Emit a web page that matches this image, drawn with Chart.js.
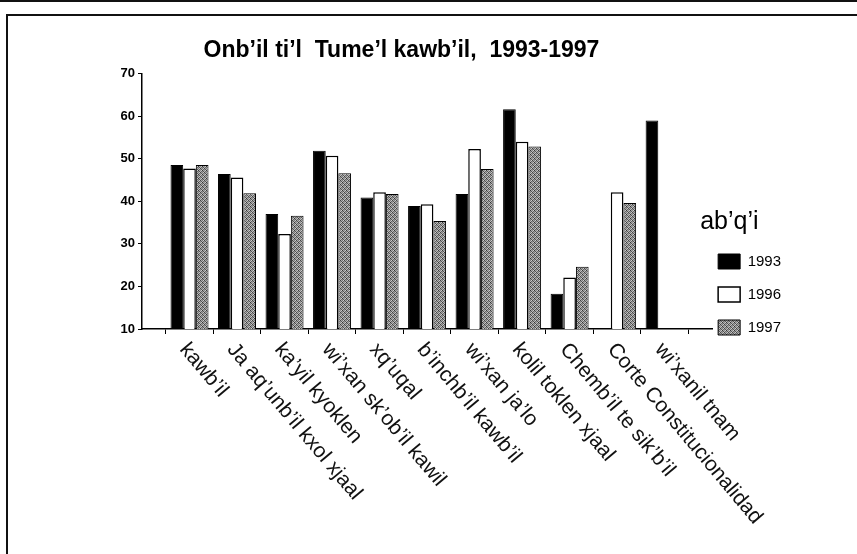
<!DOCTYPE html>
<html>
<head>
<meta charset="utf-8">
<script src="https://cdn.jsdelivr.net/npm/chart.js@4/dist/chart.umd.min.js"></script>
<style>
  html, body { margin: 0; padding: 0; background: #fff; }
  #wrap { position: relative; width: 857px; height: 554px; overflow: hidden; }
  #linea { position: absolute; left: 0; top: 0; width: 857px; height: 2px; background: #111; }
  #marco { position: absolute; left: 6px; top: 14px; width: 860px; height: 560px;
           border-top: 2px solid #111; border-left: 2px solid #111; }
  canvas { position: absolute; left: 0; top: 0; }
</style>
</head>
<body>
<div id="wrap">
  <div id="linea"></div>
  <div id="marco"></div>
  <canvas id="grafica" width="857" height="554"></canvas>
</div>
<script>
// categorías y valores
const categorias = ["kawb’il", "Ja aq’unb’il kxol xjaal", "ka’yil kyoklen", "wi’xan sk’ob’il kawil",
  "xq’uqal", "b’inchb’il kawb’il", "wi’xan ja’lo", "kolil toklen xjaal",
  "Chemb’il te sik’b’il", "Corte Constitucionalidad", "wi’xanil tnam"];
const anios = ["1993", "1996", "1997"];
const v1993 = [48.5, 46.4, 37.0, 51.9, 40.9, 38.9, 41.7, 61.6, 18.3, null, 59.0];
const v1996 = [47.7, 45.6, 32.3, 50.7, 42.1, 39.3, 52.3, 54.0, 22.1, 42.1, null];
const v1997 = [48.5, 41.9, 36.6, 46.6, 41.7, 35.4, 47.6, 52.9, 24.6, 39.6, null];
const ticksY = [10, 20, 30, 40, 50, 60, 70];

// trama punteada para 1997
function trama() {
  const c = document.createElement("canvas");
  c.width = 4; c.height = 4;
  const g = c.getContext("2d");
  const tonos = ["#444", "#aaa", "#777", "#ccc",
                 "#999", "#555", "#bbb", "#666",
                 "#888", "#ccc", "#333", "#aaa",
                 "#bbb", "#666", "#999", "#555"];
  tonos.forEach((t, i) => { g.fillStyle = t; g.fillRect(i % 4, Math.floor(i / 4), 1, 1); });
  return g.createPattern(c, "repeat");
}

// se deja un hueco vacío a cada lado del eje x
const rellenar = arr => [null, ...arr, null];

const etiquetasX = {
  id: "etiquetasX",
  afterDraw(chart) {
    const ctx = chart.ctx;
    const x = chart.scales.x;
    const y0 = chart.chartArea.bottom;
    ctx.save();
    ctx.font = "21px 'Liberation Sans', Arial, sans-serif";
    ctx.fillStyle = "#111";
    ctx.textAlign = "left";
    ctx.textBaseline = "middle";
    categorias.forEach((cat, i) => {
      const px = x.getPixelForValue(i + 1);
      ctx.save();
      ctx.translate(px - 6, y0 + 17);
      ctx.rotate(50 * Math.PI / 180);
      ctx.fillText(cat, 0, 0);
      ctx.restore();
    });
    ctx.restore();
  }
};

// mueve la leyenda un poco hacia la izquierda, como en el original
const moverLeyenda = {
  id: "moverLeyenda",
  afterLayout(chart) {
    chart.legend.left -= 12;
    chart.legend.right -= 12;
  }
};

const ctx = document.getElementById("grafica").getContext("2d");
new Chart(ctx, {
  type: "bar",
  data: {
    labels: ["", ...categorias, ""],
    datasets: [
      { label: anios[0], data: rellenar(v1993), backgroundColor: "#000", borderColor: "#000", borderWidth: 1 },
      { label: anios[1], data: rellenar(v1996), backgroundColor: "#fff", borderColor: "#000", borderWidth: 1.5 },
      { label: anios[2], data: rellenar(v1997), backgroundColor: trama(), borderColor: "#000", borderWidth: 1 }
    ]
  },
  options: {
    responsive: false,
    animation: false,
    categoryPercentage: 0.8,
    barPercentage: 1.0,
    layout: { padding: { top: 0, left: 0, right: 54, bottom: 201 } },
    plugins: {
      tooltip: { enabled: false },
      title: {
        display: true,
        text: "Onb’il ti’l  Tume’l kawb’il,  1993-1997",
        color: "#000",
        font: { family: "'Liberation Sans', Arial, sans-serif", size: 23, weight: "bold" },
        padding: { top: 37, bottom: 9 }
      },
      legend: {
        position: "right",
        align: "end",
        title: {
          display: true,
          position: "start",
          text: "ab’q’i",
          color: "#000",
          font: { family: "'Liberation Sans', Arial, sans-serif", size: 25 },
          padding: { top: 0, bottom: -4 }
        },
        labels: {
          boxWidth: 22,
          boxHeight: 15,
          padding: 18,
          color: "#000",
          font: { family: "'Liberation Sans Narrow', 'Liberation Sans', Arial, sans-serif", size: 15 }
        }
      }
    },
    scales: {
      x: {
        offset: false,
        afterFit(scale) { scale.height = 24; },
        grid: { display: true, drawOnChartArea: false, drawTicks: true, tickLength: 5, color: "#000" },
        border: { display: true, color: "#000", width: 1.5 },
        ticks: { display: false }
      },
      y: {
        min: ticksY[0],
        max: ticksY[ticksY.length - 1],
        afterFit(scale) { scale.width = 142; },
        afterBuildTicks(scale) { scale.ticks = ticksY.map(v => ({ value: v })); },
        grid: { display: true, drawOnChartArea: false, drawTicks: true, tickLength: 4, color: "#000" },
        border: { display: true, color: "#000", width: 1.5 },
        ticks: {
          color: "#000",
          padding: 3,
          font: { family: "'Liberation Sans', Arial, sans-serif", size: 13, weight: "bold" }
        }
      }
    }
  },
  plugins: [etiquetasX, moverLeyenda]
});
</script>
</body>
</html>
